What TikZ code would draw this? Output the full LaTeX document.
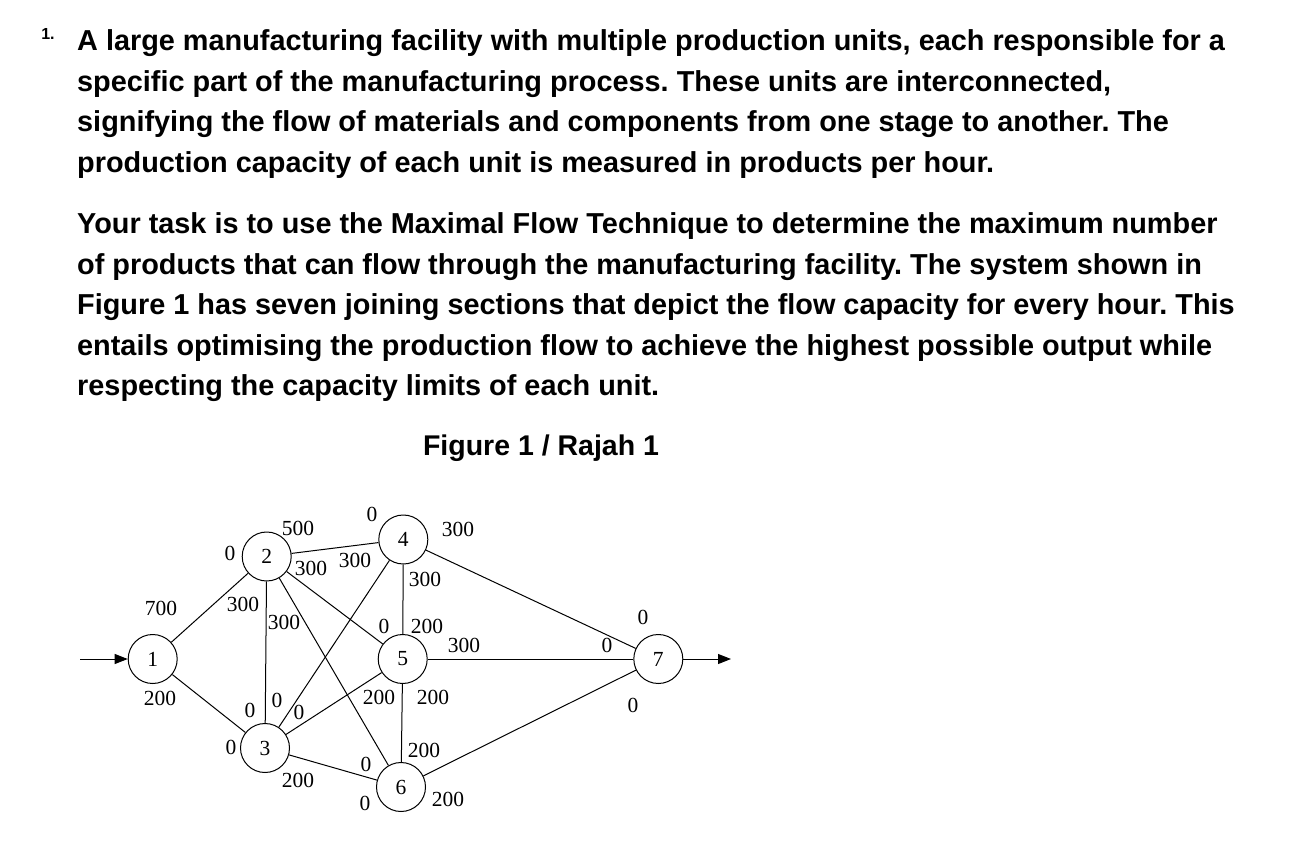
\documentclass[tikz,border=0pt]{standalone}
\usepackage{fontspec}
\setmainfont{Liberation Sans}
\newfontfamily\tnr{Liberation Serif}
\usetikzlibrary{arrows.meta}

\tikzset{
  unit/.style={draw, circle, line width=1pt, minimum size=49pt, inner sep=0pt, font=\tnr\fontsize{21.5}{23}\selectfont},
  capnum/.style={inner sep=0pt, font=\tnr\fontsize{21.5}{23}\selectfont},
  flow/.style={line width=1pt},
  para/.style={anchor=north west, align=left, inner sep=0pt, font=\bfseries\frenchspacing\fontsize{28.85}{40.5}\selectfont}
}

\begin{document}
\begin{tikzpicture}[x=1pt, y=-1pt]
\useasboundingbox (0,0) rectangle (1290,842);

\node[inner sep=0pt, font=\bfseries\fontsize{16}{17}\selectfont] (num) at (48,34) {1.};
\node[para] (p1) at (77,29.5) {A large manufacturing facility with multiple production units, each responsible for a\\specific part of the manufacturing process. These units are interconnected,\\signifying the flow of materials and components from one stage to another. The\\production capacity of each unit is measured in products per hour.};
\node[para] (p2) at (77,212.5) {Your task is to use the Maximal Flow Technique to determine the maximum number\\of products that can flow through the manufacturing facility. The system shown in\\Figure 1 has seven joining sections that depict the flow capacity for every hour. This\\entails optimising the production flow to achieve the highest possible output while\\respecting the capacity limits of each unit.};
\node[anchor=base, inner sep=0pt, font=\bfseries\fontsize{28.5}{30}\selectfont] (fig) at (541,455) {Figure 1 / Rajah 1};

% units
\node[unit] (n1) at (152.7,659) {1};
\node[unit] (n2) at (266.7,556.5) {2};
\node[unit] (n3) at (265,748) {3};
\node[unit] (n4) at (403.3,539.5) {4};
\node[unit] (n5) at (402.7,659) {5};
\node[unit] (n6) at (401,787) {6};
\node[unit] (n7) at (658.3,659) {7};

\coordinate (src) at (80,659);
\coordinate (snk) at (731,659);

\draw[flow, -{Triangle[length=13pt,width=10pt]}] (src) -- (n1);
\draw[flow, -{Triangle[length=13pt,width=10pt]}] (n7) -- (snk);

\draw[flow] (n1) -- (n2);
\draw[flow] (n1) -- (n3);
\draw[flow] (n2) -- (n4);
\draw[flow] (n2) -- (n5);
\draw[flow] (n2) -- (n6);
\draw[flow] (n2) -- (n3);
\draw[flow] (n3) -- (n4);
\draw[flow] (n3) -- (n5);
\draw[flow] (n3) -- (n6);
\draw[flow] (n4) -- (n5);
\draw[flow] (n4) -- (n7);
\draw[flow] (n5) -- (n7);
\draw[flow] (n5) -- (n6);
\draw[flow] (n6) -- (n7);

% capacities
\node[capnum] (c12a) at (161,608) {700};
\node[capnum] (c13a) at (160,698) {200};
\node[capnum] (c12b) at (230,553) {0};
\node[capnum] (c23a) at (243,604) {300};
\node[capnum] (c24a) at (298,528) {500};
\node[capnum] (c25a) at (311,568) {300};
\node[capnum] (c34b) at (355,560) {300};
\node[capnum] (c24b) at (372,514) {0};
\node[capnum] (c26a) at (284,622) {300};
\node[capnum] (c23b) at (250,710) {0};
\node[capnum] (c34a) at (277,700) {0};
\node[capnum] (c35a) at (299,712) {0};
\node[capnum] (c13b) at (231,747) {0};
\node[capnum] (c36a) at (298,780) {200};
\node[capnum] (c26b) at (366,764) {0};
\node[capnum] (c36b) at (365,803) {0};
\node[capnum] (c47a) at (458,529) {300};
\node[capnum] (c45a) at (425,579) {300};
\node[capnum] (c25b) at (384,626) {0};
\node[capnum] (c45b) at (427,626) {200};
\node[capnum] (c57a) at (464,645) {300};
\node[capnum] (c57b) at (607,645) {0};
\node[capnum] (c47b) at (643,617) {0};
\node[capnum] (c67b) at (633,705) {0};
\node[capnum] (c35b) at (379,697) {200};
\node[capnum] (c56a) at (433,697) {200};
\node[capnum] (c56b) at (424,750) {200};
\node[capnum] (c67a) at (448,799) {200};
\end{tikzpicture}
\end{document}
